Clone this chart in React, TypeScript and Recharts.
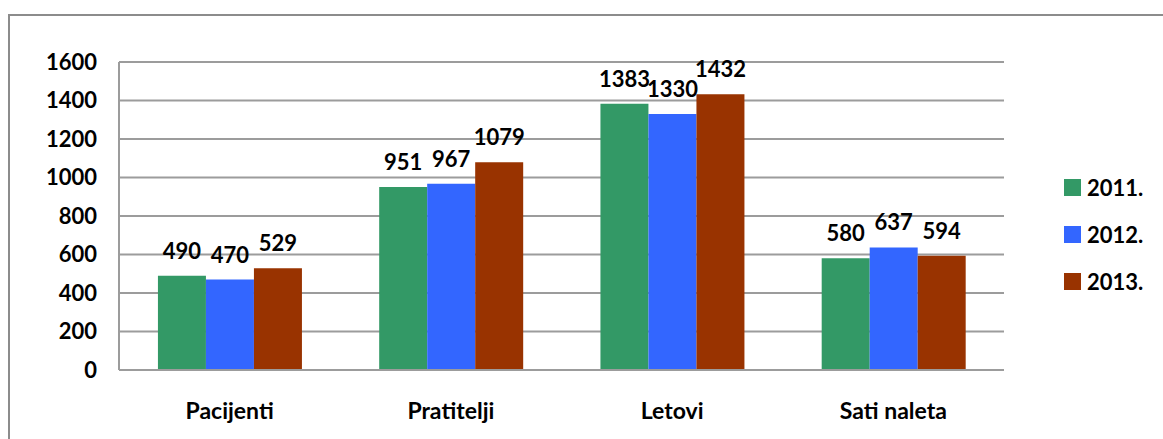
import React from 'react';
import { BarChart, Bar, XAxis, YAxis, CartesianGrid, Legend, LabelList } from 'recharts';

const categories = ['Pacijenti', 'Pratitelji', 'Letovi', 'Sati naleta'];
const values2011 = [490, 951, 1383, 580];
const values2012 = [470, 967, 1330, 637];
const values2013 = [529, 1079, 1432, 594];
const seriesNames = ['2011.', '2012.', '2013.'];
const seriesColors = ['#339966', '#3366FF', '#993300'];
const yTicks = [0, 200, 400, 600, 800, 1000, 1200, 1400, 1600];

const data = categories.map((c, i) => ({
  name: c,
  s2011: values2011[i],
  s2012: values2012[i],
  s2013: values2013[i],
}));
const keys = ['s2011', 's2012', 's2013'];

const FONT = 'Lato, "Liberation Sans", sans-serif';

const LegendContent = () => (
  <div style={{ display: 'flex', flexDirection: 'column' }}>
    {seriesNames.map((n, i) => (
      <div key={n} style={{ display: 'flex', alignItems: 'center', height: 47 }}>
        <span style={{ display: 'inline-block', width: 17, height: 17, background: seriesColors[i], marginRight: 6 }} />
        <span style={{ fontFamily: FONT, fontWeight: 700, fontSize: 22, color: '#000' }}>{n}</span>
      </div>
    ))}
  </div>
);

export default function App() {
  return (
    <div style={{ position: 'absolute', left: 0, top: 0, width: 1163, height: 439, overflow: 'hidden', background: '#fff' }}>
      <div style={{ position: 'absolute', left: 8, top: 14, width: 1300, height: 600, border: '2px solid #8c8c8c', boxSizing: 'border-box' }} />
      <BarChart
        width={1163}
        height={439}
        data={data}
        margin={{ top: 62, right: 159, left: 0, bottom: 39 }}
        barGap={0}
        barCategoryGap="17.6%"
      >
        <CartesianGrid vertical={false} stroke="#9c9c9c" strokeWidth={2} />
        <XAxis
          dataKey="name"
          height={30}
          tickLine={false}
          tickSize={0}
          tickMargin={33}
          axisLine={{ stroke: '#9c9c9c', strokeWidth: 2 }}
          tick={{ fill: '#000', fontFamily: FONT, fontWeight: 700, fontSize: 23 }}
        />
        <YAxis
          width={119}
          domain={[0, 1600]}
          ticks={yTicks}
          interval={0}
          tickLine={false}
          tickSize={0}
          tickMargin={22}
          axisLine={{ stroke: '#9c9c9c', strokeWidth: 2 }}
          tick={{ fill: '#000', fontFamily: FONT, fontWeight: 700, fontSize: 22 }}
        />
        <Legend
          layout="vertical"
          align="center"
          verticalAlign="middle"
          content={<LegendContent />}
          wrapperStyle={{ left: 1064, top: 164, width: 100 }}
        />
        {keys.map((k, i) => (
          <Bar key={k} dataKey={k} name={seriesNames[i]} fill={seriesColors[i]} isAnimationActive={false}>
            <LabelList
              dataKey={k}
              position="top"
              offset={17}
              style={{ fill: '#000', fontFamily: FONT, fontWeight: 700, fontSize: 22 }}
            />
          </Bar>
        ))}
      </BarChart>
    </div>
  );
}
